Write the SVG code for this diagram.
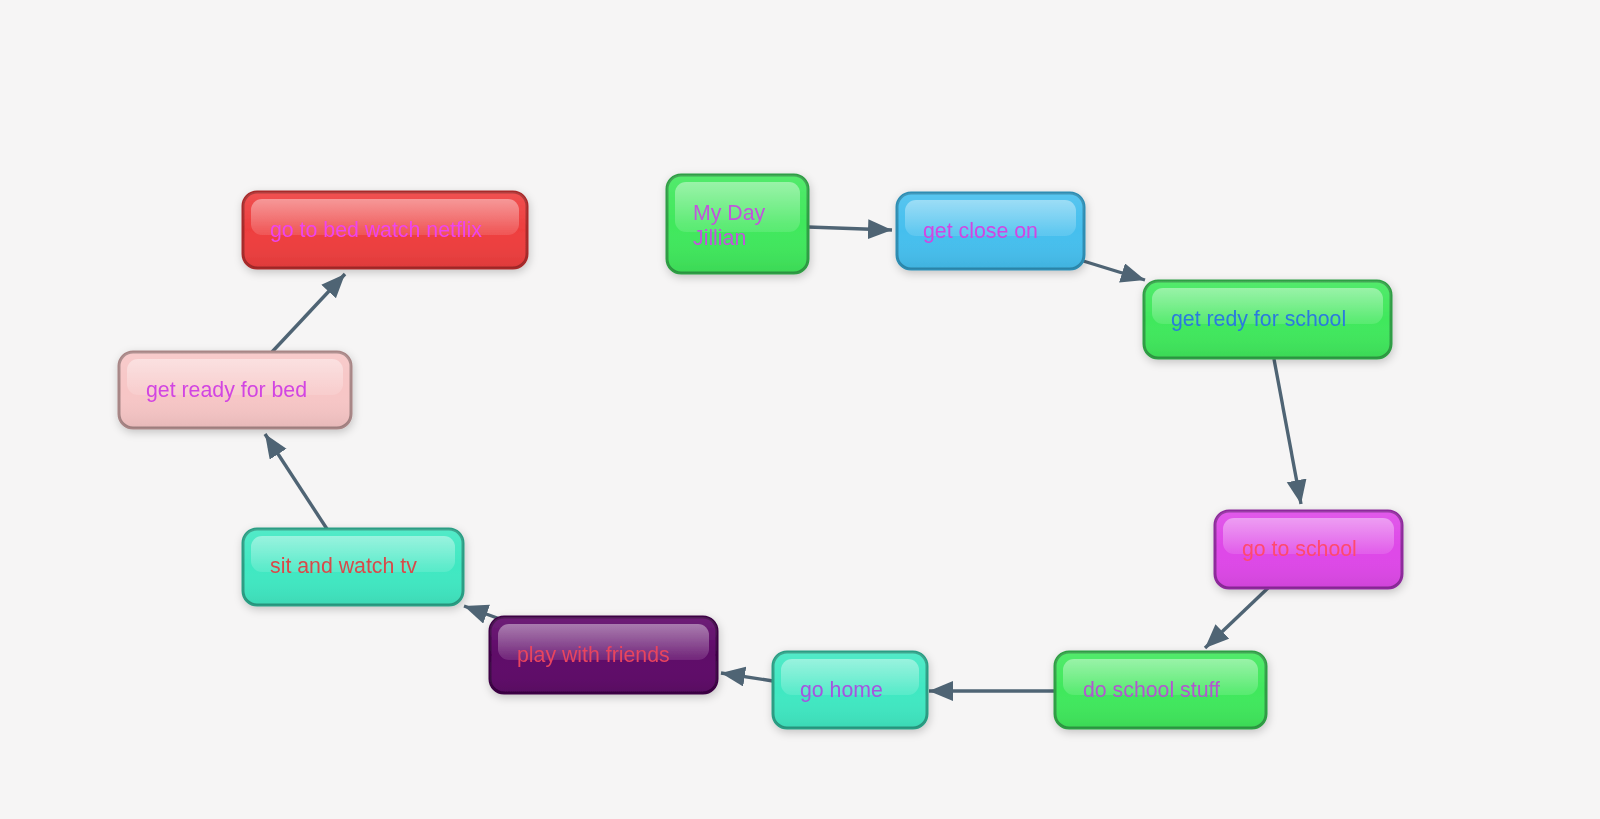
<svg xmlns="http://www.w3.org/2000/svg" width="1600" height="819" viewBox="0 0 1600 819">
<defs>
<style>
.body{stroke-width:3}
.green .body{fill:#40e85c;stroke:#2f9e44}
.blue .body{fill:#45bfee;stroke:#2d8db3}
.red .body{fill:#ee3e3e;stroke:#a82a2a}
.pink .body{fill:#f7c6c6;stroke:#a88686}
.magenta .body{fill:#de48e8;stroke:#8e2a9c}
.dpurple .body{fill:#5e0868;stroke:#3c0444}
.teal .body{fill:#40e8c2;stroke:#2a9e84}
.shade{fill:url(#shade);stroke:none}
.gloss{fill:url(#gloss);stroke:none}
text{font-family:"Liberation Sans",Arial,sans-serif;font-size:21.3px}
.conn line{stroke:#4f6474;stroke-width:3.4;marker-end:url(#arr)}
</style>
<linearGradient id="shade" x1="0" y1="0" x2="0" y2="1">
<stop offset="0" stop-color="#ffffff" stop-opacity="0.1"/>
<stop offset="0.5" stop-color="#ffffff" stop-opacity="0"/>
<stop offset="1" stop-color="#000000" stop-opacity="0.07"/>
</linearGradient>
<linearGradient id="gloss" x1="0" y1="0" x2="0" y2="1">
<stop offset="0" stop-color="#ffffff" stop-opacity="0.42"/>
<stop offset="1" stop-color="#ffffff" stop-opacity="0.12"/>
</linearGradient>
<filter id="sh" x="-10%" y="-20%" width="120%" height="150%">
<feDropShadow dx="1" dy="3" stdDeviation="4" flood-color="#000" flood-opacity="0.2"/>
</filter>
<marker id="arr" markerUnits="userSpaceOnUse" markerWidth="26" markerHeight="22" refX="24" refY="10" orient="auto">
<path d="M0,0 L24,10 L0,20 z" fill="#4f6474"/>
</marker>
</defs>
<rect width="1600" height="819" fill="#f6f5f5"/>

<g class="conn" id="connectors">
<line x1="808" y1="227" x2="892" y2="230"/>
<line x1="1080" y1="260" x2="1145" y2="280"/>
<line x1="1274" y1="359" x2="1301" y2="504"/>
<line x1="1268" y1="588" x2="1205" y2="648"/>
<line x1="1055" y1="691" x2="929" y2="691"/>
<line x1="773" y1="681" x2="721" y2="673"/>
<line x1="500" y1="619" x2="464" y2="606"/>
<line x1="327" y1="529" x2="265" y2="434"/>
<line x1="272" y1="352" x2="345" y2="274"/>
</g>

<g id="n-myday" class="green" filter="url(#sh)">
<rect class="body" x="667" y="175" width="141" height="98" rx="14"/>
<rect class="shade" x="667" y="175" width="141" height="98" rx="14"/>
<rect class="gloss" x="675" y="182" width="125" height="50" rx="11"/>
<text x="693" y="220" fill="#c155dc">My Day</text>
<text x="693" y="245" fill="#c155dc">Jillian</text>
</g>

<g id="n-close" class="blue" filter="url(#sh)">
<rect class="body" x="897" y="193" width="187" height="76" rx="14"/>
<rect class="shade" x="897" y="193" width="187" height="76" rx="14"/>
<rect class="gloss" x="905" y="200" width="171" height="36" rx="11"/>
<text x="923" y="238" fill="#d244e2">get close on</text>
</g>

<g id="n-redy" class="green" filter="url(#sh)">
<rect class="body" x="1144" y="281" width="247" height="77" rx="14"/>
<rect class="shade" x="1144" y="281" width="247" height="77" rx="14"/>
<rect class="gloss" x="1152" y="288" width="231" height="36" rx="11"/>
<text x="1171" y="326" fill="#2a7ade">get redy for school</text>
</g>

<g id="n-school" class="magenta" filter="url(#sh)">
<rect class="body" x="1215" y="511" width="187" height="77" rx="14"/>
<rect class="shade" x="1215" y="511" width="187" height="77" rx="14"/>
<rect class="gloss" x="1223" y="518" width="171" height="36" rx="11"/>
<text x="1242" y="556" fill="#ff4a6e">go to school</text>
</g>

<g id="n-stuff" class="green" filter="url(#sh)">
<rect class="body" x="1055" y="652" width="211" height="76" rx="14"/>
<rect class="shade" x="1055" y="652" width="211" height="76" rx="14"/>
<rect class="gloss" x="1063" y="659" width="195" height="36" rx="11"/>
<text x="1083" y="697" fill="#b257d0">do school stuff</text>
</g>

<g id="n-home" class="teal" filter="url(#sh)">
<rect class="body" x="773" y="652" width="154" height="76" rx="14"/>
<rect class="shade" x="773" y="652" width="154" height="76" rx="14"/>
<rect class="gloss" x="781" y="659" width="138" height="36" rx="11"/>
<text x="800" y="697" fill="#a554e0">go home</text>
</g>

<g id="n-friends" class="dpurple" filter="url(#sh)">
<rect class="body" x="490" y="617" width="227" height="76" rx="14"/>
<rect class="shade" x="490" y="617" width="227" height="76" rx="14"/>
<rect class="gloss" x="498" y="624" width="211" height="36" rx="11"/>
<text x="517" y="662" fill="#e8445e">play with friends</text>
</g>

<g id="n-tv" class="teal" filter="url(#sh)">
<rect class="body" x="243" y="529" width="220" height="76" rx="14"/>
<rect class="shade" x="243" y="529" width="220" height="76" rx="14"/>
<rect class="gloss" x="251" y="536" width="204" height="36" rx="11"/>
<text x="270" y="573" fill="#d84a4a">sit and watch tv</text>
</g>

<g id="n-readybed" class="pink" filter="url(#sh)">
<rect class="body" x="119" y="352" width="232" height="76" rx="14"/>
<rect class="shade" x="119" y="352" width="232" height="76" rx="14"/>
<rect class="gloss" x="127" y="359" width="216" height="36" rx="11"/>
<text x="146" y="397" fill="#d244e2">get ready for bed</text>
</g>

<g id="n-netflix" class="red" filter="url(#sh)">
<rect class="body" x="243" y="192" width="284" height="76" rx="14"/>
<rect class="shade" x="243" y="192" width="284" height="76" rx="14"/>
<rect class="gloss" x="251" y="199" width="268" height="36" rx="11"/>
<text x="270" y="237" fill="#ee44ee">go to bed watch netflix</text>
</g>
</svg>
